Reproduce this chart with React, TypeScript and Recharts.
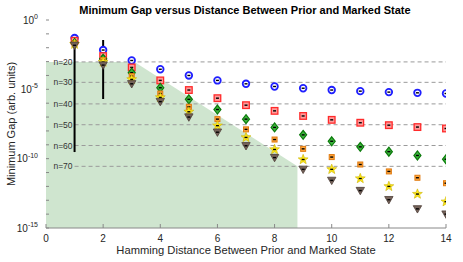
import React from "react";
import {
    Area,
    ComposedChart,
    Label,
    ReferenceLine,
    Scatter,
    XAxis,
    YAxis,
} from "recharts";

// Hamming distances on the x axis
const distances = [1, 2, 3, 4, 5, 6, 7, 8, 9, 10, 11, 12, 13, 14];

// minimum gap for each problem size n
const gapN20 = [5.0e-2, 6.8e-3, 1.2e-3, 2.8e-4, 1.0e-4, 4.4e-5, 2.5e-5, 1.6e-5, 1.2e-5, 8.9e-6, 7.4e-6, 6.3e-6, 5.6e-6, 5.0e-6];
const gapN30 = [3.2e-2, 2.5e-3, 3.8e-4, 4.4e-5, 8.9e-6, 2.3e-6, 7.2e-7, 2.8e-7, 1.2e-7, 6.3e-8, 3.9e-8, 2.6e-8, 1.9e-8, 1.5e-8];
const gapN40 = [2.2e-2, 1.6e-3, 1.6e-4, 1.3e-5, 1.9e-6, 3.5e-7, 7.1e-8, 1.8e-8, 5.2e-9, 1.8e-9, 7.1e-10, 3.2e-10, 1.7e-10, 9.1e-11];
const gapN50 = [2.0e-2, 1.3e-3, 9.1e-5, 5.0e-6, 5.5e-7, 7.1e-8, 1.3e-8, 2.4e-9, 5.1e-10, 1.3e-10, 3.8e-11, 1.2e-11, 4.2e-12, 1.7e-12];
const gapN60 = [1.8e-2, 9.3e-4, 5.2e-5, 2.6e-6, 2.4e-7, 2.4e-8, 3.4e-9, 4.6e-10, 8.7e-11, 1.7e-11, 3.7e-12, 1.0e-12, 2.8e-13, 7.9e-14];
const gapN70 = [1.5e-2, 5.6e-4, 2.5e-5, 1.3e-6, 1.0e-7, 8.1e-9, 8.5e-10, 1.2e-10, 1.7e-11, 2.7e-12, 5.0e-13, 1.1e-13, 2.4e-14, 1.0e-14];

// dashed reference levels
const levelNames = ["n=20", "n=30", "n=40", "n=50", "n=60", "n=70"];
const levelGaps = [9.5e-4, 3.2e-5, 8.9e-7, 2.8e-8, 8.9e-10, 2.8e-11];

// green shaded region outline
const shadeDistance = [0, 3.1, 8.8];
const shadeGap = [9.5e-4, 9.5e-4, 2.8e-11];

// the two long black error bars
const errorBarDistance = [1, 2];
const errorBarTop = [2.2e-2, 3.6e-2];
const errorBarBottom = [3.0e-10, 2.0e-6];

const xTicks = [0, 2, 4, 6, 8, 10, 12, 14];
const yTicks = [1e-15, 1e-14, 1e-13, 1e-12, 1e-11, 1e-10, 1e-9, 1e-8, 1e-7, 1e-6, 1e-5, 1e-4, 1e-3, 1e-2, 1e-1, 1];

const PLOT_LEFT = 46;
const PLOT_BOTTOM = 228;
const TEXT = "#262626";
const FONT = '"Liberation Sans", Arial, Helvetica, sans-serif';

const shadeData = shadeDistance.map((x, i) => ({ x, gap: shadeGap[i] }));

const series = [
    { name: "n=20", gaps: gapN20, kind: "circle" },
    { name: "n=30", gaps: gapN30, kind: "square" },
    { name: "n=40", gaps: gapN40, kind: "diamond" },
    { name: "n=50", gaps: gapN50, kind: "smallSquare" },
    { name: "n=60", gaps: gapN60, kind: "star" },
    { name: "n=70", gaps: gapN70, kind: "triangle" },
].map((s) => ({
    ...s,
    data: distances.map((x, i) => ({ x, gap: s.gaps[i] })),
}));

const starPoints = (cx: number, cy: number, ro: number, ri: number) => {
    const pts: string[] = [];
    for (let k = 0; k < 10; k++) {
        const r = k % 2 === 0 ? ro : ri;
        const a = -Math.PI / 2 + (k * Math.PI) / 5;
        pts.push(`${cx + r * Math.cos(a)},${cy + r * Math.sin(a)}`);
    }
    return pts.join(" ");
};

const Marker = ({ cx, cy, kind }: { cx: number; cy: number; kind: string }) => {
    if (cx == null || cy == null) return null;
    let body: React.ReactNode = null;
    switch (kind) {
        case "circle":
            body = <circle cx={cx} cy={cy} r={3.3} fill="#fff" stroke="#1f1fff" strokeWidth={1.8} />;
            break;
        case "square":
            body = <rect x={cx - 3.3} y={cy - 3.3} width={6.6} height={6.6} fill="#ff9a9a" stroke="#ff2a2a" strokeWidth={1.3} />;
            break;
        case "diamond":
            body = (
                <polygon
                    points={`${cx},${cy - 4.5} ${cx + 3.5},${cy} ${cx},${cy + 4.5} ${cx - 3.5},${cy}`}
                    fill="#3cb43c"
                    stroke="#0b7a0b"
                    strokeWidth={1.2}
                />
            );
            break;
        case "smallSquare":
            body = <rect x={cx - 2.5} y={cy - 2.5} width={5} height={5} fill="#ffa53a" stroke="#e07a10" strokeWidth={1} />;
            break;
        case "star":
            body = <polygon points={starPoints(cx, cy, 5.2, 2.2)} fill="#ffe81a" stroke="#c9b200" strokeWidth={0.6} />;
            break;
        case "triangle":
            body = (
                <polygon
                    points={`${cx - 4.2},${cy - 3.2} ${cx + 4.2},${cy - 3.2} ${cx},${cy + 4.2}`}
                    fill="#75635a"
                    stroke="#4e3f38"
                    strokeWidth={0.8}
                />
            );
            break;
    }
    return (
        <g>
            {body}
            <rect x={cx - 1.5} y={cy - 0.7} width={3} height={1.4} fill="#000" />
        </g>
    );
};

const XTick = (props: any) => {
    const { x, payload } = props;
    return (
        <g>
            <line x1={x} x2={x} y1={PLOT_BOTTOM} y2={PLOT_BOTTOM - 4} stroke="#888" />
            <text x={x} y={PLOT_BOTTOM + 14} textAnchor="middle" fontSize={10} fill={TEXT} fontFamily={FONT}>
                {payload.value}
            </text>
        </g>
    );
};

const YTick = (props: any) => {
    const { y, payload } = props;
    const exp = Math.round(Math.log10(payload.value));
    return (
        <g>
            <line x1={PLOT_LEFT} x2={PLOT_LEFT + 3} y1={y} y2={y} stroke="#888" />
            {exp % 5 === 0 && (
                <text x={38} y={y + 3.5} textAnchor="end" fontSize={10} fill={TEXT} fontFamily={FONT}>
                    <tspan>10</tspan>
                    <tspan dy={-4.5} fontSize={7}>
                        {exp}
                    </tspan>
                </text>
            )}
        </g>
    );
};

const App = () => {
    return (
        <div
            style={{
                position: "absolute",
                left: 0,
                top: 0,
                width: 463,
                height: 262,
                background: "#fff",
                fontFamily: FONT,
            }}
        >
            <div
                style={{
                    position: "absolute",
                    left: 0,
                    top: 3,
                    width: 490,
                    textAlign: "center",
                    fontSize: 11,
                    fontWeight: "bold",
                    color: "#000",
                    lineHeight: "14px",
                }}
            >
                Minimum Gap versus Distance Between Prior and Marked State
            </div>
            <ComposedChart
                width={463}
                height={262}
                data={shadeData}
                margin={{ top: 20, right: 17, bottom: 0, left: 0 }}
            >
                <XAxis
                    type="number"
                    dataKey="x"
                    domain={[0, 14]}
                    ticks={xTicks}
                    interval={0}
                    allowDataOverflow
                    height={34}
                    axisLine={{ stroke: "#888" }}
                    tickLine={false}
                    tick={<XTick />}
                >
                    <Label
                        value="Hamming Distance Between Prior and Marked State"
                        position="insideBottom"
                        offset={8}
                        fontSize={11.2}
                        fill={TEXT}
                        fontFamily={FONT}
                    />
                </XAxis>
                <YAxis
                    type="number"
                    dataKey="gap"
                    scale="log"
                    domain={[1e-15, 1]}
                    ticks={yTicks}
                    interval={0}
                    allowDataOverflow
                    width={46}
                    axisLine={false}
                    tickLine={false}
                    tick={<YTick />}
                >
                    <Label
                        content={() => (
                            <text
                                transform="translate(15,124) rotate(-90)"
                                textAnchor="middle"
                                fontSize={11}
                                fill={TEXT}
                                fontFamily={FONT}
                            >
                                Minimum Gap (arb. units)
                            </text>
                        )}
                    />
                </YAxis>
                <Area
                    dataKey="gap"
                    type="linear"
                    stroke="none"
                    fill="#cfe5cf"
                    fillOpacity={1}
                    baseValue={1e-15}
                    isAnimationActive={false}
                />
                {levelGaps.map((g, i) => (
                    <ReferenceLine
                        key={levelNames[i]}
                        segment={[
                            { x: 1, y: g },
                            { x: 14, y: g },
                        ]}
                        stroke="#9a9a9a"
                        strokeDasharray="4 3"
                        label={{
                            value: levelNames[i],
                            position: "left",
                            offset: 2,
                            fontSize: 8.5,
                            fill: "#333",
                            fontFamily: FONT,
                        }}
                    />
                ))}
                {errorBarDistance.map((d, i) => (
                    <ReferenceLine
                        key={`err-${d}`}
                        segment={[
                            { x: d, y: errorBarTop[i] },
                            { x: d, y: errorBarBottom[i] },
                        ]}
                        stroke="#000"
                        strokeWidth={2}
                    />
                ))}
                {series.map((s) => (
                    <Scatter
                        key={s.name}
                        name={s.name}
                        data={s.data}
                        dataKey="gap"
                        isAnimationActive={false}
                        shape={(p: any) => <Marker cx={p.cx} cy={p.cy} kind={s.kind} />}
                    />
                ))}
            </ComposedChart>
        </div>
    );
};

export default App;
